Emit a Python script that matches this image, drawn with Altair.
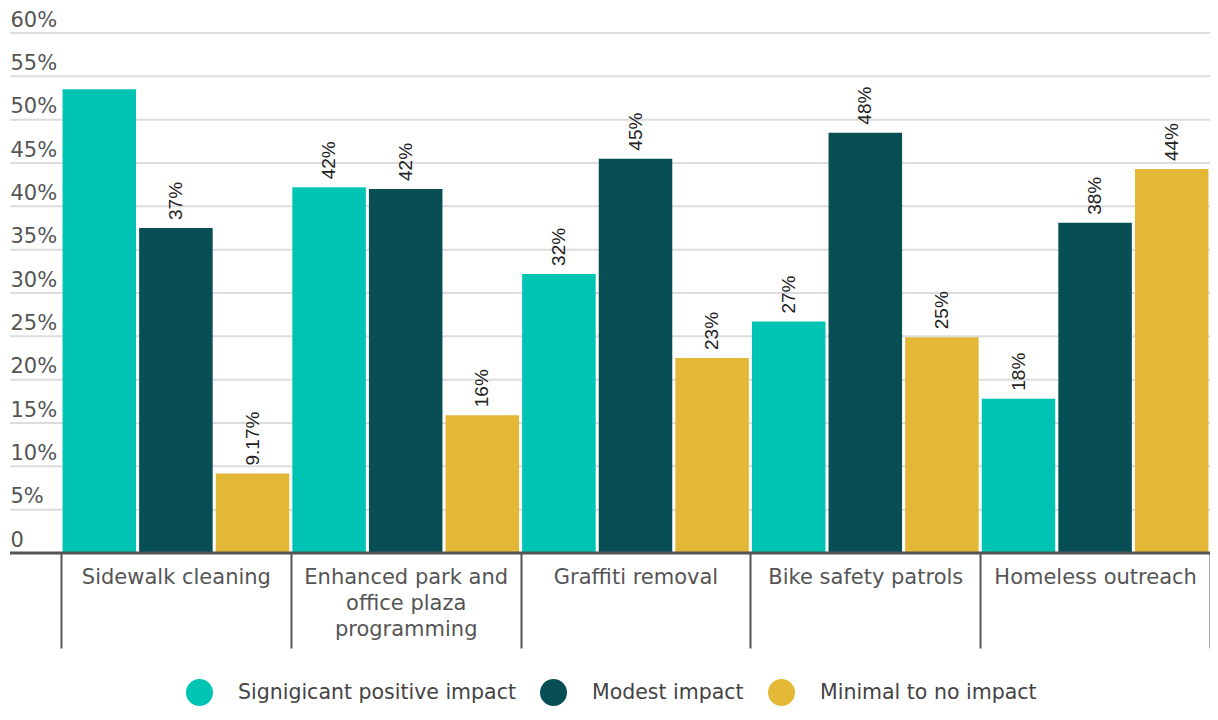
import altair as alt
import pandas as pd

categories = ["Sidewalk cleaning", "Enhanced park and office plaza programming",
              "Graffiti removal", "Bike safety patrols", "Homeless outreach"]
series = ["Signigicant positive impact", "Modest impact", "Minimal to no impact"]
colors = ["#00C4B3", "#074E55", "#E2B836"]

significant = [53.5, 42.2, 32.2, 26.7, 17.8]
modest = [37.5, 42.0, 45.5, 48.5, 38.1]
minimal = [9.17, 15.9, 22.5, 24.9, 44.3]

significant_labels = ["", "42%", "32%", "27%", "18%"]
modest_labels = ["37%", "42%", "45%", "48%", "38%"]
minimal_labels = ["9.17%", "16%", "23%", "25%", "44%"]

y_ticks = [0, 5, 10, 15, 20, 25, 30, 35, 40, 45, 50, 55, 60]

FONT = "DejaVu Sans"
W, H = 1149, 520

rows = []
for s, vals, labs in zip(series, [significant, modest, minimal],
                         [significant_labels, modest_labels, minimal_labels]):
    for c, v, l in zip(categories, vals, labs):
        rows.append({"category": c, "series": s, "value": v, "label": l})
df = pd.DataFrame(rows)

grid_df = pd.DataFrame({"v": y_ticks[1:]})
base_df = pd.DataFrame({"v": [0]})

yscale = alt.Scale(domain=[0, 60], nice=False, zero=True)
yaxis = alt.Axis(values=y_ticks, title=None, domain=False, ticks=False, tickSize=0,
                 grid=False, labelAlign="left", labelBaseline="alphabetic",
                 labelPadding=51, labelOffset=-7, labelFontSize=21,
                 labelColor="#555555", labelFont=FONT,
                 labelExpr="datum.value == 0 ? '0' : datum.value + '%'")

wrap_expr = ("datum.value == 'Enhanced park and office plaza programming' ? "
             "['Enhanced park and', 'office plaza', 'programming'] : datum.value")
xaxis = alt.Axis(title=None, domain=False, ticks=True, tickBand="extent",
                 tickSize=95, tickWidth=2, tickColor="#555555",
                 labelPadding=-82, labelAngle=0, labelFontSize=21,
                 labelColor="#555555", labelFont=FONT, labelLineHeight=26,
                 labelExpr=wrap_expr, labelLimit=400, labelOverlap=False)

xenc = alt.X("category:N", sort=categories,
             scale=alt.Scale(paddingInner=0, paddingOuter=0), axis=xaxis)
xoff = alt.XOffset("series:N", sort=series,
                   scale=alt.Scale(domain=series, paddingInner=0.04, paddingOuter=0.02))

grid = alt.Chart(grid_df).mark_rule(color="#dcdcdc", strokeWidth=2).encode(
    y=alt.Y("v:Q", scale=yscale, axis=yaxis),
    x=alt.value(-51), x2=alt.value(W))

bars = alt.Chart(df).mark_bar().encode(
    x=xenc, xOffset=xoff,
    y=alt.Y("value:Q", scale=yscale, axis=yaxis),
    color=alt.Color("series:N", sort=series,
                    scale=alt.Scale(domain=series, range=colors),
                    legend=alt.Legend(orient="none", legendX=125, legendY=646,
                                      direction="horizontal", title=None,
                                      symbolType="circle", symbolSize=729,
                                      symbolStrokeWidth=0, symbolOpacity=1,
                                      labelFontSize=20.5, labelColor="#444444",
                                      labelFont=FONT, labelOffset=25,
                                      columnPadding=24, padding=0, labelLimit=400)))

baseline = alt.Chart(base_df).mark_rule(color="#555555", strokeWidth=3).encode(
    y=alt.Y("v:Q", scale=yscale, axis=yaxis),
    x=alt.value(-51), x2=alt.value(W))

texts = alt.Chart(df).mark_text(angle=270, align="left", baseline="middle", dx=8,
                                fontSize=19, font="Liberation Sans",
                                color="#222222").encode(
    x=xenc, xOffset=xoff,
    y=alt.Y("value:Q", scale=yscale, axis=yaxis),
    text="label:N")

chart = alt.layer(grid, bars, baseline, texts).properties(
    width=W, height=H,
    autosize=alt.AutoSizeParams(type="none"),
    padding={"left": 53, "top": 25, "right": 0, "bottom": 153}
).configure_view(stroke=None)

chart.save("out.html", embed_options={"renderer": "svg", "actions": False})
